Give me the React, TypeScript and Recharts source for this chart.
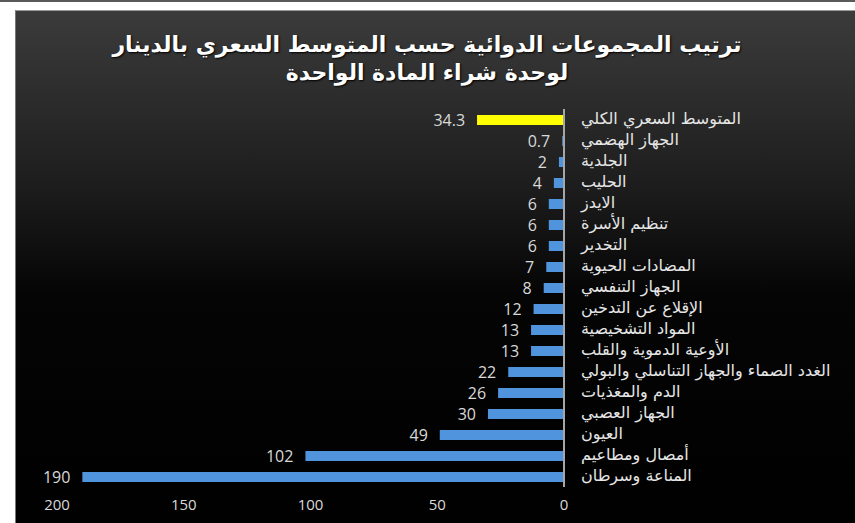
import { Bar, BarChart, Cell, LabelList, XAxis, YAxis } from "recharts";

const categories = [
  "المتوسط السعري الكلي",
  "الجهاز الهضمي",
  "الجلدية",
  "الحليب",
  "الايدز",
  "تنظيم الأسرة",
  "التخدير",
  "المضادات الحيوية",
  "الجهاز التنفسي",
  "الإقلاع عن التدخين",
  "المواد التشخيصية",
  "الأوعية الدموية والقلب",
  "الغدد الصماء والجهاز التناسلي والبولي",
  "الدم والمغذيات",
  "الجهاز العصبي",
  "العيون",
  "أمصال ومطاعيم",
  "المناعة وسرطان",
];

const prices = [34.3, 0.7, 2, 4, 6, 6, 6, 7, 8, 12, 13, 13, 22, 26, 30, 49, 102, 190];

const xTicks = [0, 50, 100, 150, 200];

const titleLines = [
  "ترتيب المجموعات الدوائية حسب المتوسط السعري بالدينار",
  "لوحدة شراء المادة الواحدة",
];

const data = categories.map((name, i) => ({ name, value: prices[i] }));

const CategoryTick = ({ x, y, payload }: any) => (
  <text
    x={x}
    y={y}
    dy="0.3em"
    textAnchor="start"
    fill="#e6e6e6"
    fontSize={16}
    fontFamily="DejaVu Sans"
  >
    {payload.value}
  </text>
);

const ValueLabel = ({ x, y, width, height, value }: any) => {
  const left = Math.min(x, x + width);
  return (
    <text
      x={left - 12}
      y={y + height / 2}
      dy="0.35em"
      textAnchor="end"
      fill="#d9d9d9"
      fontSize={16}
      fontFamily="Open Sans"
    >
      {value}
    </text>
  );
};

export default function App() {
  return (
    <div
      style={{
        position: "absolute",
        left: 0,
        top: 0,
        width: 855,
        height: 523,
        background: "#fff",
        borderTop: "2px solid #5a5a5a",
        boxSizing: "border-box",
        overflow: "hidden",
      }}
    >
      <div
        style={{
          position: "absolute",
          left: 15,
          top: 8,
          width: 840,
          height: 513,
          borderTop: "1px solid #9a9a9a",
          borderLeft: "1px solid #777",
          background:
            "linear-gradient(to bottom, #3b3b3b 0%, #1c1c1c 35%, #050505 55%, #000 100%)",
        }}
      >
        <div
          style={{
            position: "absolute",
            left: 0,
            top: 20,
            width: 822,
            textAlign: "center",
            color: "#fff",
            fontFamily: "DejaVu Sans",
            fontWeight: "bold",
            fontSize: 22,
            lineHeight: "28px",
            textShadow: "1px 1px 2px #000",
            direction: "rtl",
          }}
        >
          {titleLines.map((t) => (
            <div key={t}>{t}</div>
          ))}
        </div>
        <BarChart
          width={840}
          height={513}
          data={data}
          layout="vertical"
          margin={{ top: 98, right: 0, bottom: 5, left: 41 }}
          barSize={10}
        >
          <XAxis
            type="number"
            domain={[0, 200]}
            ticks={xTicks}
            reversed
            axisLine={false}
            tickLine={false}
            tickMargin={6}
            height={32}
            tick={{ fill: "#d9d9d9", fontSize: 15, fontFamily: "Open Sans" }}
          />
          <YAxis
            type="category"
            dataKey="name"
            orientation="right"
            width={292}
            axisLine={{ stroke: "#a6a6a6", strokeWidth: 2 }}
            tickLine={false}
            tickMargin={11}
            interval={0}
            tick={<CategoryTick />}
          />
          <Bar dataKey="value" fill="#4f94dc" isAnimationActive={false}>
            {data.map((d, i) => (
              <Cell key={d.name} fill={i === 0 ? "#ffff00" : "#4f94dc"} />
            ))}
            <LabelList dataKey="value" content={<ValueLabel />} />
          </Bar>
        </BarChart>
      </div>
    </div>
  );
}
